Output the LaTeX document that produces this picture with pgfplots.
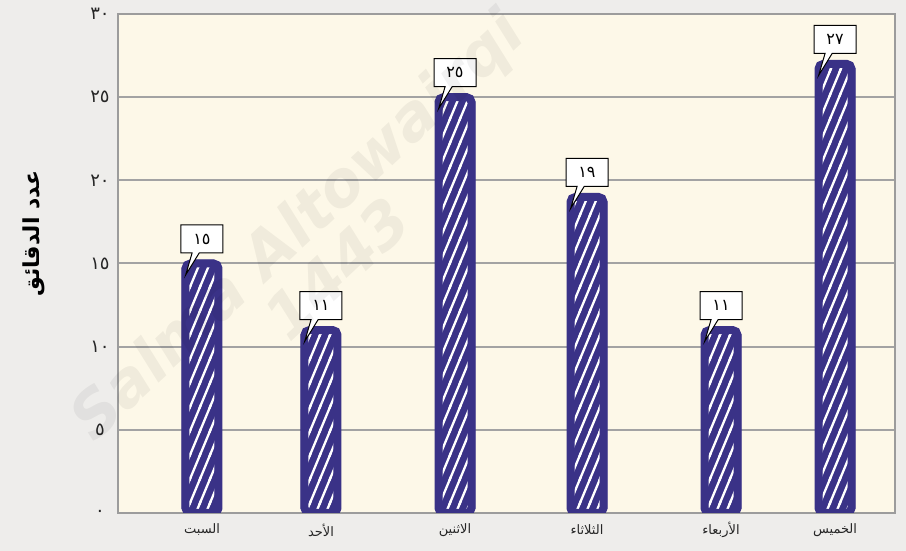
\documentclass[border=0pt]{standalone}
\usepackage{fontspec}
\usepackage{pgfplots}
\pgfplotsset{compat=1.18}
\usetikzlibrary{patterns,shapes.callouts,backgrounds}
\TeXXeTstate=1
\setmainfont{DejaVu Sans}
\newfontfamily\arabicfont[Script=Arabic]{DejaVu Sans}
\definecolor{barc}{HTML}{3A3287}
\definecolor{cream}{HTML}{FDF8E8}
\definecolor{outerbg}{HTML}{EEEDEB}
\definecolor{gridc}{HTML}{A3A3A3}
\definecolor{framec}{HTML}{9C9C9C}
\pgfdeclarepatternformonly{hatch}{\pgfqpoint{-2pt}{-2pt}}{\pgfqpoint{12pt}{26pt}}{\pgfqpoint{10pt}{24pt}}{%
  \pgfsetlinewidth{2.3pt}%
  \pgfpathmoveto{\pgfqpoint{-1pt}{-2.4pt}}\pgfpathlineto{\pgfqpoint{11pt}{26.4pt}}%
  \pgfusepath{stroke}}
\begin{document}
\begin{tikzpicture}
\begin{axis}[
  scale only axis,
  width=777pt, height=499pt,
  xmin=118, xmax=895,
  ymin=0, ymax=30,
  axis background/.style={fill=cream},
  axis line style={draw=framec, line width=2.5pt},
  ymajorgrids,
  grid style={draw=gridc, line width=2pt},
  tick style={draw=none},
  ytick={0,5,10,15,20,25,30},
  yticklabels={٠,٥,١٠,١٥,٢٠,٢٥,٣٠},
  yticklabel style={anchor=center, xshift=-18pt, font=\arabicfont\fontsize{18}{18}\selectfont, text=black!85},
  xtick=data,
  xticklabels={\beginR السبت\endR,\beginR الأحد\endR,\beginR الاثنين\endR,\beginR الثلاثاء\endR,\beginR الأربعاء\endR,\beginR الخميس\endR},
  xticklabel style={anchor=center, yshift=-17pt, font=\arabicfont\fontsize{13}{13}\selectfont, text=black!85},
  ylabel={\beginR عدد الدقائق\endR},
  every axis y label/.style={at={(axis description cs:-0.108,0.56)}, rotate=90, anchor=center, font=\arabicfont\bfseries\fontsize{22}{22}\selectfont},
  point meta=explicit symbolic,
  nodes near coords,
  every node near coord/.append style={
    rectangle callout, draw=black, fill=white, line width=1pt, sharp corners,
    minimum width=42pt, minimum height=28pt, inner sep=2pt,
    anchor=south, yshift=10pt,
    callout relative pointer={(-10pt,-22pt)},
    font=\arabicfont\fontsize{16}{16}\selectfont, text=black},
]
\addplot[ybar, bar width=33, fill=barc, draw=barc, line width=7pt, rounded corners=5pt,
  postaction={pattern=hatch, pattern color=white},
  postaction={fill=none, draw=barc, line width=8pt, rounded corners=5pt}]
coordinates {
(202,15) [١٥]
(321,11) [١١]
(455,25) [٢٥]
(587,19) [١٩]
(721,11) [١١]
(835,27) [٢٧]
};
\end{axis}
\begin{scope}[on background layer]
\fill[outerbg] ([xshift=-118pt,yshift=-38pt]current axis.south west) rectangle ([xshift=11pt,yshift=14pt]current axis.north east);
\end{scope}
\node[overlay, rotate=43, opacity=0.05, font=\bfseries\itshape\fontsize{62}{60}\selectfont, align=center, text=black] at ([xshift=198pt,yshift=267pt]current axis.south west) {Salma Altowairqi\\1443};
\end{tikzpicture}
\end{document}
